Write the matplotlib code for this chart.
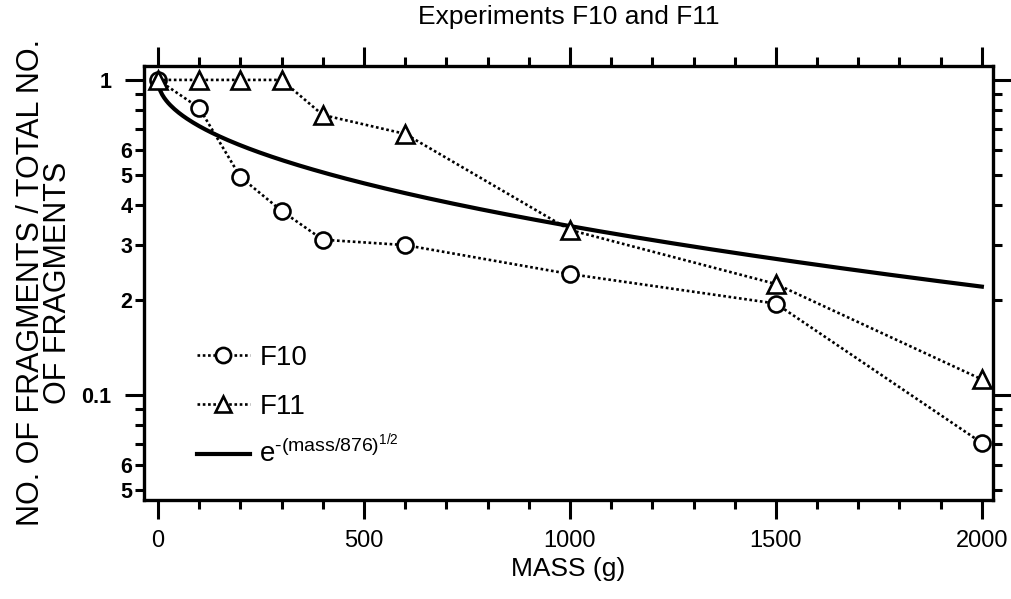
#!/usr/bin/env python3
import numpy as np
import matplotlib
matplotlib.use('Agg')
from matplotlib import pyplot as plt
from matplotlib import font_manager
from matplotlib.ticker import FixedLocator, FixedFormatter

# Data
mass = [0, 100, 200, 300, 400, 600, 1000, 1500, 2000]
f10 = [1.0, 0.815, 0.492, 0.384, 0.311, 0.299, 0.242, 0.195, 0.0704]
f11 = [1.0, 1.0, 1.0, 1.0, 0.774, 0.674, 0.334, 0.225, 0.112]
m0 = 876.0  # characteristic mass of the fit

ymajor = [0.1, 1.0]
ymajor_labels = ['0.1', '1']
yminor = [0.05, 0.06, 0.07, 0.08, 0.09, 0.2, 0.3, 0.4, 0.5, 0.6, 0.7, 0.8, 0.9]
yminor_labels = ['5', '6', '', '', '', '2', '3', '4', '5', '6', '', '', '']

# Fonts
names = {f.name for f in font_manager.fontManager.ttflist}
narrow = 'Liberation Sans Narrow' if 'Liberation Sans Narrow' in names else 'Liberation Sans'
plt.rcParams['font.family'] = ['Liberation Sans', 'DejaVu Sans']
plt.rcParams['mathtext.fontset'] = 'custom'
plt.rcParams['mathtext.rm'] = 'Liberation Sans'
plt.rcParams['mathtext.it'] = 'Liberation Sans'


def main():
    fig = plt.figure(figsize=(10.12, 5.99), dpi=100)
    ax = fig.add_axes([0.1423, 0.1653, 0.8389, 0.7245])

    dot = (0, (1.0, 1.0))
    l10, = ax.plot(mass, f10, linestyle=dot, color='black', linewidth=1.9,
                   marker='o', markersize=11.5, markerfacecolor='white',
                   markeredgecolor='black', markeredgewidth=1.9, label='F10', zorder=3)
    l11, = ax.plot(mass, f11, linestyle=dot, color='black', linewidth=1.9,
                   marker='^', markersize=12.5, markerfacecolor='white',
                   markeredgecolor='black', markeredgewidth=1.9, label='F11', zorder=3)

    xs = np.linspace(0, 2000, 400)
    lfit, = ax.plot(xs, np.exp(-np.sqrt(xs / m0)), color='black', linewidth=3,
                    label=r'e$^{\text{-}(\mathrm{mass}/876)^{1/2}}$', zorder=2)

    ax.set_yscale('log')
    ax.set_xlim(-34, 2027)
    ax.set_ylim(0.0464, 1.107)

    # x ticks
    ax.set_xticks([0, 500, 1000, 1500, 2000])
    ax.set_xticks(np.arange(100, 2000, 100), minor=True)
    # y ticks
    ax.yaxis.set_major_locator(FixedLocator(ymajor))
    ax.yaxis.set_major_formatter(FixedFormatter(ymajor_labels))
    ax.yaxis.set_minor_locator(FixedLocator(yminor))
    ax.yaxis.set_minor_formatter(FixedFormatter(yminor_labels))

    ax.tick_params(which='both', direction='out', top=True, right=True,
                   labeltop=False, labelright=False, width=2.2)
    ax.tick_params(which='major', length=13.5)
    ax.tick_params(which='minor', length=6.5)
    ax.tick_params(axis='x', which='major', pad=8)
    ax.tick_params(axis='y', which='major', pad=10)
    ax.tick_params(axis='y', which='minor', pad=2)
    for lab in ax.get_xticklabels():
        lab.set_fontfamily(narrow)
        lab.set_fontsize(17)
    for lab in ax.get_yticklabels() + ax.get_yticklabels(minor=True):
        lab.set_fontsize(15.5)
        lab.set_fontweight('bold')

    for sp in ax.spines.values():
        sp.set_linewidth(2.4)

    ax.set_xlabel('MASS (g)', fontsize=19, labelpad=4)
    ax.set_ylabel('NO. OF FRAGMENTS / TOTAL NO.\nOF FRAGMENTS', fontsize=22,
                  labelpad=6, linespacing=0.85)
    ax.set_title('Experiments F10 and F11', fontsize=19, pad=30)

    # legend in two parts so the row spacing can follow the original
    leg_kw = dict(frameon=False, fontsize=20, handlelength=1.9,
                  handletextpad=0.35, numpoints=1, borderpad=0,
                  borderaxespad=0, markerscale=0.95)
    leg1 = ax.legend(handles=[l10, l11], loc='center left',
                     bbox_to_anchor=(0.0624, 0.271), labelspacing=0.85, **leg_kw)
    ax.add_artist(leg1)
    ax.legend(handles=[lfit], loc='center left',
              bbox_to_anchor=(0.0624, 0.11), **leg_kw)

    fig.savefig('out.png', dpi=100)


if __name__ == "__main__":
    main()
